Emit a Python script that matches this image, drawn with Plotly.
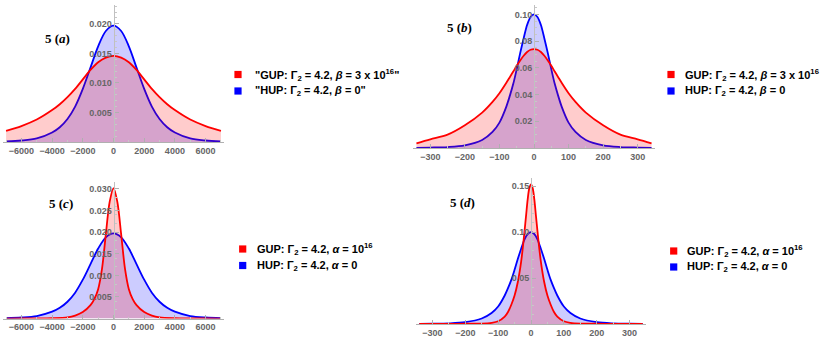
import plotly.graph_objects as go

# ---- data ----
x_wide = [-7000, -6000, -5000, -4000, -3500, -3000, -2500, -2000, -1500, -1000, -500, 0,
          500, 1000, 1500, 2000, 2500, 3000, 3500, 4000, 5000, 6000, 7000]
gup_beta_wide = [0.0019, 0.0027, 0.0038, 0.0054, 0.0064, 0.0076, 0.0090, 0.0106, 0.0122, 0.0135, 0.0143, 0.0146,
                 0.0143, 0.0135, 0.0122, 0.0106, 0.0090, 0.0076, 0.0064, 0.0054, 0.0038, 0.0027, 0.0019]
hup_wide = [0.0001, 0.00025, 0.0006, 0.0016, 0.0025, 0.0039, 0.0060, 0.0090, 0.0126, 0.0162, 0.0188, 0.0197,
            0.0188, 0.0162, 0.0126, 0.0090, 0.0060, 0.0039, 0.0025, 0.0016, 0.0006, 0.00025, 0.0001]

x_wide_alpha = [-7000, -6000, -5000, -4000, -3000, -2500, -2000, -1500, -1250, -1000, -750, -500, -250, 0,
                250, 500, 750, 1000, 1250, 1500, 2000, 2500, 3000, 4000, 5000, 6000, 7000]
gup_alpha_wide = [0.00001, 0.00002, 0.00004, 0.0001, 0.0003, 0.0007, 0.0015, 0.0031, 0.0045, 0.0068, 0.0115, 0.0195, 0.0270, 0.0302,
                  0.0270, 0.0195, 0.0115, 0.0068, 0.0045, 0.0031, 0.0015, 0.0007, 0.0003, 0.0001, 0.00004, 0.00002, 0.00001]

x_narrow = [-340, -300, -250, -200, -150, -120, -100, -80, -70, -60, -50, -40, -30, -20, -10, 0,
            10, 20, 30, 40, 50, 60, 70, 80, 100, 120, 150, 200, 250, 300, 340]
gup_beta_narrow = [0.0035, 0.0065, 0.0100, 0.0170, 0.0265, 0.0345, 0.0410, 0.0488, 0.0530, 0.0572, 0.0615, 0.0655, 0.0690, 0.0718, 0.0735, 0.0740,
                   0.0735, 0.0718, 0.0690, 0.0655, 0.0615, 0.0572, 0.0530, 0.0488, 0.0410, 0.0345, 0.0265, 0.0170, 0.0100, 0.0065, 0.0035]
hup_narrow = [0.0001, 0.0003, 0.0007, 0.002, 0.006, 0.012, 0.019, 0.031, 0.039, 0.048, 0.059, 0.071, 0.082, 0.092, 0.098, 0.100,
              0.098, 0.092, 0.082, 0.071, 0.059, 0.048, 0.039, 0.031, 0.019, 0.012, 0.006, 0.002, 0.0007, 0.0003, 0.0001]

x_narrow_alpha = [-340, -300, -250, -200, -150, -120, -100, -80, -70, -60, -50, -40, -30, -25, -20, -15, -10, -5, 0,
                  5, 10, 15, 20, 25, 30, 40, 50, 60, 70, 80, 100, 120, 150, 200, 250, 300, 340]
gup_alpha_narrow = [0.00003, 0.00005, 0.0001, 0.0003, 0.0005, 0.0013, 0.0030, 0.008, 0.013, 0.021, 0.031, 0.046, 0.068, 0.083, 0.100, 0.118, 0.136, 0.148, 0.152,
                    0.148, 0.136, 0.118, 0.100, 0.083, 0.068, 0.046, 0.031, 0.021, 0.013, 0.008, 0.0030, 0.0013, 0.0005, 0.0003, 0.0001, 0.00005, 0.00003]

ticks_wide = [-6000, -4000, -2000, 0, 2000, 4000, 6000]
ticks_narrow = [-300, -200, -100, 0, 100, 200, 300]
yticks_a = [0.005, 0.010, 0.015, 0.020]
yticks_b = [0.02, 0.04, 0.06, 0.08, 0.10]
yticks_c = [0.005, 0.010, 0.015, 0.020, 0.025, 0.030]
yticks_d = [0.05, 0.10, 0.15]

legend_a = ['"GUP: Γ<sub>2</sub> = 4.2, <i>β</i> = 3 x 10<sup>16</sup>"', '"HUP: Γ<sub>2</sub> = 4.2, <i>β</i> = 0"']
legend_b = ['GUP: Γ<sub>2</sub> = 4.2, <i>β</i> = 3 x 10<sup>16</sup>', 'HUP: Γ<sub>2</sub> = 4.2, <i>β</i> = 0']
legend_c = ['GUP: Γ<sub>2</sub> = 4.2, <i>α</i> = 10<sup>16</sup>', 'HUP: Γ<sub>2</sub> = 4.2, <i>α</i> = 0']
legend_d = ['GUP: Γ<sub>2</sub> = 4.2, <i>α</i> = 10<sup>16</sup>', 'HUP: Γ<sub>2</sub> = 4.2, <i>α</i> = 0']

W, H = 830, 341
RED, BLUE = "#ff0000", "#0000ff"
RED_FILL, BLUE_FILL = "rgba(255,0,0,0.2)", "rgba(0,0,255,0.2)"
TICKFONT = dict(family="Liberation Sans", size=9, color="#666666", weight="bold")
LEGFONT = dict(family="Liberation Sans", size=11, color="black", weight="bold")

# panel boxes in pixels: left, right, top, zero-line
panels = {
    "a": dict(px=(3, 224), py=(5, 142), xr=7200, yr=0.0232, xt=ticks_wide, yt=yticks_a, fmt=".3f"),
    "b": dict(px=(413, 655), py=(5, 148), xr=350, yr=0.107, xt=ticks_narrow, yt=yticks_b, fmt=".2f"),
    "c": dict(px=(3, 224), py=(182, 318.6), xr=7200, yr=0.0316, xt=ticks_wide, yt=yticks_c, fmt=".3f"),
    "d": dict(px=(416, 646), py=(178, 324), xr=350, yr=0.159, xt=ticks_narrow, yt=yticks_d, fmt=".2f"),
}

curves = {
    "a": [(x_wide, hup_wide, BLUE, BLUE_FILL), (x_wide, gup_beta_wide, RED, RED_FILL)],
    "b": [(x_narrow, hup_narrow, BLUE, BLUE_FILL), (x_narrow, gup_beta_narrow, RED, RED_FILL)],
    "c": [(x_wide, hup_wide, BLUE, BLUE_FILL), (x_wide_alpha, gup_alpha_wide, RED, RED_FILL)],
    "d": [(x_narrow, hup_narrow, BLUE, BLUE_FILL), (x_narrow_alpha, gup_alpha_narrow, RED, RED_FILL)],
}

legends = {"a": legend_a, "b": legend_b, "c": legend_c, "d": legend_d}
# square centre x, text start x, row centres y
legend_pos = {"a": (238, 253, (74.5, 91)), "b": (671, 683, (74.5, 91)),
              "c": (242.7, 255, (249, 265.5)), "d": (673.7, 685, (251, 267))}
label_pos = {"a": (43, 29), "b": (459, 18), "c": (47, 203), "d": (462, 202)}

fig = go.Figure()
layout = {}
for i, key in enumerate(["a", "b", "c", "d"]):
    n = "" if i == 0 else str(i + 1)
    p = panels[key]
    x0, x1 = p["px"][0] / W, p["px"][1] / W
    y0, y1 = 1 - p["py"][1] / H, 1 - p["py"][0] / H
    for xs, ys, lc, fc in curves[key]:
        fig.add_trace(go.Scatter(x=xs, y=ys, mode="lines", fill="tozeroy", fillcolor=fc,
                                 line=dict(color=lc, width=1.8, shape="spline", smoothing=0.9),
                                 xaxis="x" + n, yaxis="y" + n, showlegend=False, hoverinfo="skip"))
    layout["xaxis" + n] = dict(domain=[x0, x1], range=[-p["xr"], p["xr"]], anchor="y" + n,
                               tickvals=p["xt"], tickfont=TICKFONT, tickangle=0, automargin=False,
                               showgrid=False, zeroline=False,
                               showline=True, linecolor="#b0b0b0", linewidth=1,
                               ticks="inside", ticklen=4, tickcolor="#b0b0b0",
                               minor=dict(ticks="inside", ticklen=2, tickcolor="#c8c8c8", nticks=5))
    layout["yaxis" + n] = dict(domain=[y0, y1], range=[0, p["yr"]], anchor="free",
                               position=(x0 + x1) / 2, tickvals=p["yt"], tickformat=p["fmt"],
                               tickfont=TICKFONT, automargin=False, showgrid=False, zeroline=False,
                               showline=True, linecolor="#c0c0c0", linewidth=1,
                               ticks="inside", ticklen=4, tickcolor="#b0b0b0",
                               minor=dict(ticks="inside", ticklen=2, tickcolor="#c8c8c8", nticks=5))
    # legend: coloured square + text
    sx, tx0, rows = legend_pos[key]
    for txt, col, ry in zip(legends[key], [RED, BLUE], rows):
        fig.add_shape(type="rect", xref="paper", yref="paper",
                      x0=(sx - 3.6) / W, x1=(sx + 3.6) / W, y0=1 - (ry + 3.6) / H, y1=1 - (ry - 3.6) / H,
                      fillcolor=col, line=dict(width=0))
        fig.add_annotation(x=tx0 / W, y=1 - ry / H, xref="paper", yref="paper", showarrow=False,
                           xanchor="left", yanchor="middle", text=txt, font=LEGFONT)
    tx, ty = label_pos[key]
    fig.add_annotation(x=tx / W, y=1 - ty / H, xref="paper", yref="paper", showarrow=False,
                       text=f"<b>5 (<i>{key}</i>)</b>",
                       font=dict(family="Liberation Serif", size=13, color="black"))

fig.update_layout(width=W, height=H, autosize=False, margin=dict(l=0, r=0, t=0, b=0),
                  paper_bgcolor="white", plot_bgcolor="rgba(0,0,0,0)", **layout)
fig.write_html("out.html", config={"displayModeBar": False},
               post_script="document.body.style.margin='0';document.body.style.overflow='hidden';")
